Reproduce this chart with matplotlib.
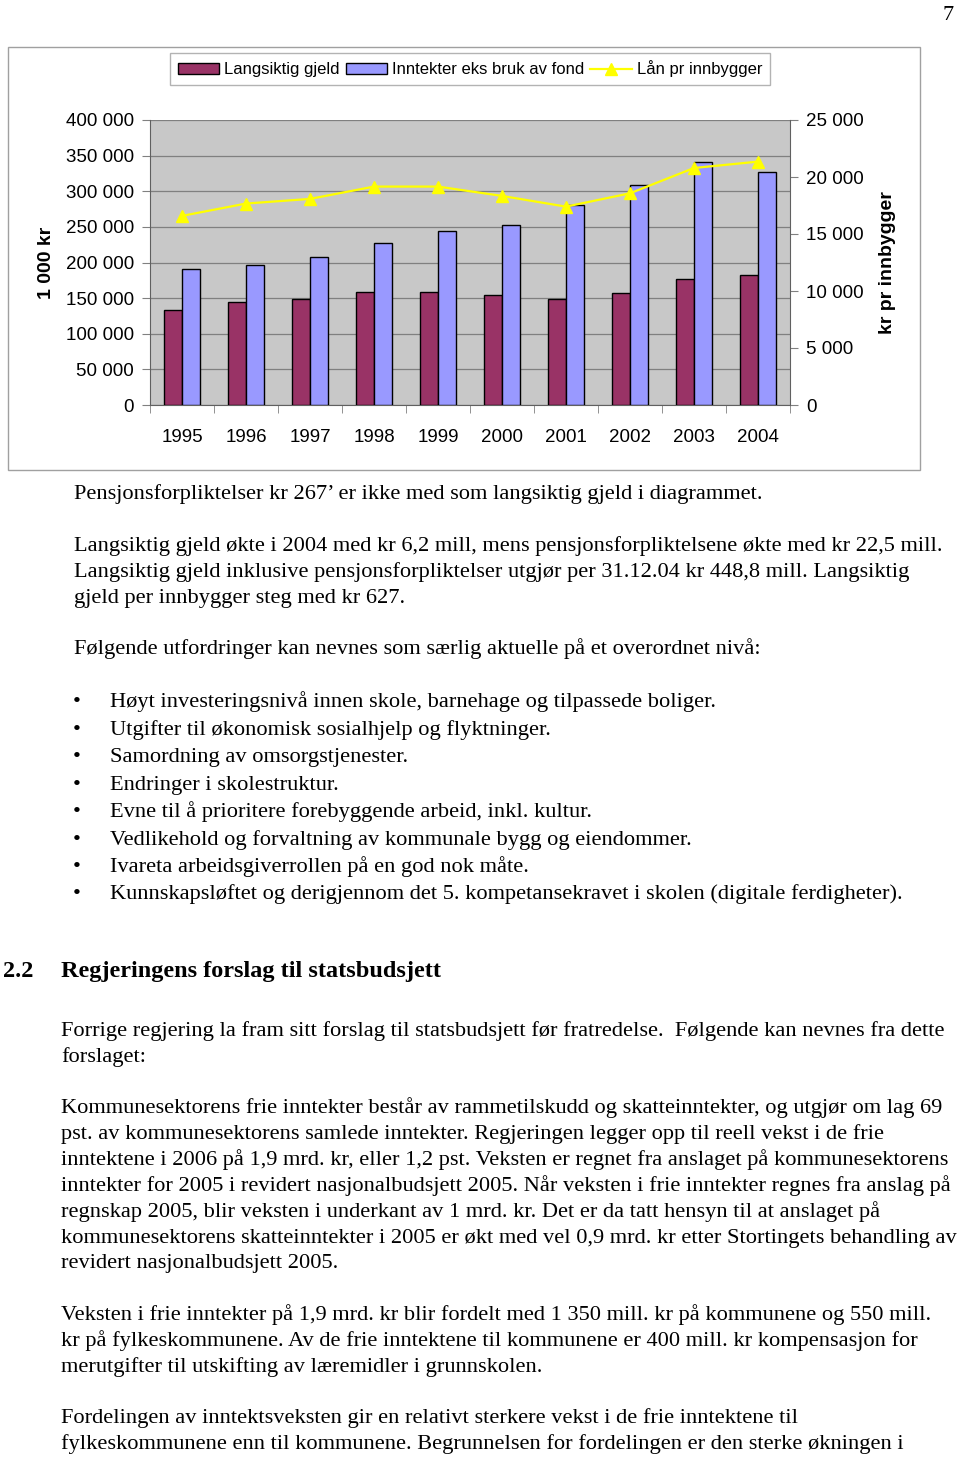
import matplotlib
matplotlib.use("Agg")
import matplotlib.pyplot as plt
from matplotlib.patches import Rectangle, Patch
from matplotlib.lines import Line2D
from matplotlib.ticker import FuncFormatter, FixedLocator

# data
years = ["1995", "1996", "1997", "1998", "1999", "2000", "2001", "2002", "2003", "2004"]
gjeld = [132700, 143900, 148100, 158900, 158900, 154700, 148100, 157000, 176200, 182700]
inntekter = [191100, 195800, 208400, 227600, 244900, 253300, 280800, 309300, 341600, 326600]
laan = [16590, 17670, 18080, 19160, 19160, 18340, 17400, 18570, 20790, 21350]

W, H = 960, 1457
sans = "Liberation Sans"
serif = "Liberation Serif"


def fx(x):
    return x / W


def fy(y):
    return 1 - y / H


fig = plt.figure(figsize=(W / 100, H / 100), dpi=100)

# chart frame
fig.patches.append(Rectangle((fx(8), fy(470)), fx(920) - fx(8), fy(47) - fy(470),
                             transform=fig.transFigure, facecolor="white",
                             edgecolor="#a0a0a0", lw=1.0, zorder=-5))

ax = fig.add_axes([fx(150), fy(405), fx(790) - fx(150), fy(120) - fy(405)])
ax.set_facecolor("#c8c8c8")
x = list(range(len(years)))
bw = 0.28
ax.bar([i - bw / 2 for i in x], gjeld, bw, color="#993366", edgecolor="black", lw=1.0, zorder=3)
ax.bar([i + bw / 2 for i in x], inntekter, bw, color="#9999ff", edgecolor="black", lw=1.0, zorder=3)
ax.set_xlim(-0.5, len(years) - 0.5)
ax.set_ylim(0, 400000)
ax.set_yticks(range(0, 400001, 50000))
ax.yaxis.set_major_formatter(FuncFormatter(lambda v, p: f"{int(v):,}".replace(",", " ")))
ax.grid(axis="y", color="#808080", lw=0.9, zorder=1)
ax.set_xticks(x)
ax.set_xticklabels(years, fontfamily=sans, fontsize=13.5)
ax.xaxis.set_minor_locator(FixedLocator([i - 0.5 for i in range(len(years) + 1)]))
ax.tick_params(axis="x", which="major", length=0, pad=17)
ax.tick_params(axis="x", which="minor", length=6, color="#808080")
ax.tick_params(axis="y", length=6, pad=5.5, color="#808080", labelsize=13.5)
for lab in ax.get_yticklabels():
    lab.set_fontfamily(sans)
for s in ["top", "right"]:
    ax.spines[s].set_visible(False)
ax.spines["left"].set_color("#606060")
ax.spines["bottom"].set_color("#606060")
ax.set_ylabel("1 000 kr", fontfamily=sans, fontsize=14, fontweight="bold", labelpad=8)

ax2 = ax.twinx()
ax2.plot(x, laan, color="#ffff00", lw=1.6, marker="^", markersize=8,
         markerfacecolor="#ffff00", markeredgecolor="#ffff00", zorder=5)
ax2.set_ylim(0, 25000)
ax2.set_yticks(range(0, 25001, 5000))
ax2.yaxis.set_major_formatter(FuncFormatter(lambda v, p: f"{int(v):,}".replace(",", " ")))
ax2.tick_params(axis="y", length=6, pad=5.5, color="#808080", labelsize=13.5)
for lab in ax2.get_yticklabels():
    lab.set_fontfamily(sans)
for s in ["top", "left", "bottom"]:
    ax2.spines[s].set_visible(False)
ax2.spines["right"].set_color("#606060")
ax2.set_ylabel("kr pr innbygger", fontfamily=sans, fontsize=14, fontweight="bold", labelpad=11)

handles = [Patch(facecolor="#993366", edgecolor="black", lw=1.0),
           Patch(facecolor="#9999ff", edgecolor="black", lw=1.0),
           Line2D([], [], color="#ffff00", lw=1.6, marker="^", markersize=8)]
leg = fig.legend(handles, ["Langsiktig gjeld", "Inntekter eks bruk av fond", "Lån pr innbygger"],
                 loc="center", bbox_to_anchor=(fx(470), fy(69)), ncol=3, frameon=True,
                 fancybox=False, edgecolor="#a0a0a0", prop={"family": sans, "size": 12},
                 handlelength=2.5, handleheight=0.7, handletextpad=0.3, columnspacing=0.35,
                 borderpad=0.45, numpoints=1)
leg.get_frame().set_linewidth(1.0)

# page text
fs = 16.1
fig.text(fx(954), fy(20), "7", fontfamily=serif, fontsize=16, ha="right", va="baseline")

lines = [
    (74, 499, "Pensjonsforpliktelser kr 267’ er ikke med som langsiktig gjeld i diagrammet."),
    (74, 551, "Langsiktig gjeld økte i 2004 med kr 6,2 mill, mens pensjonsforpliktelsene økte med kr 22,5 mill."),
    (74, 577, "Langsiktig gjeld inklusive pensjonsforpliktelser utgjør per 31.12.04 kr 448,8 mill. Langsiktig"),
    (74, 603, "gjeld per innbygger steg med kr 627."),
    (74, 654, "Følgende utfordringer kan nevnes som særlig aktuelle på et overordnet nivå:"),
    (61, 1036, "Forrige regjering la fram sitt forslag til statsbudsjett før fratredelse.  Følgende kan nevnes fra dette"),
    (61, 1062, "forslaget:"),
    (61, 1113, "Kommunesektorens frie inntekter består av rammetilskudd og skatteinntekter, og utgjør om lag 69"),
    (61, 1139, "pst. av kommunesektorens samlede inntekter. Regjeringen legger opp til reell vekst i de frie"),
    (61, 1165, "inntektene i 2006 på 1,9 mrd. kr, eller 1,2 pst. Veksten er regnet fra anslaget på kommunesektorens"),
    (61, 1191, "inntekter for 2005 i revidert nasjonalbudsjett 2005. Når veksten i frie inntekter regnes fra anslag på"),
    (61, 1217, "regnskap 2005, blir veksten i underkant av 1 mrd. kr. Det er da tatt hensyn til at anslaget på"),
    (61, 1243, "kommunesektorens skatteinntekter i 2005 er økt med vel 0,9 mrd. kr etter Stortingets behandling av"),
    (61, 1268, "revidert nasjonalbudsjett 2005."),
    (61, 1320, "Veksten i frie inntekter på 1,9 mrd. kr blir fordelt med 1 350 mill. kr på kommunene og 550 mill."),
    (61, 1346, "kr på fylkeskommunene. Av de frie inntektene til kommunene er 400 mill. kr kompensasjon for"),
    (61, 1372, "merutgifter til utskifting av læremidler i grunnskolen."),
    (61, 1423, "Fordelingen av inntektsveksten gir en relativt sterkere vekst i de frie inntektene til"),
    (61, 1449, "fylkeskommunene enn til kommunene. Begrunnelsen for fordelingen er den sterke økningen i"),
]
for lx, ly, t in lines:
    fig.text(fx(lx), fy(ly), t, fontfamily=serif, fontsize=fs, ha="left", va="baseline")

bullets = [
    "Høyt investeringsnivå innen skole, barnehage og tilpassede boliger.",
    "Utgifter til økonomisk sosialhjelp og flyktninger.",
    "Samordning av omsorgstjenester.",
    "Endringer i skolestruktur.",
    "Evne til å prioritere forebyggende arbeid, inkl. kultur.",
    "Vedlikehold og forvaltning av kommunale bygg og eiendommer.",
    "Ivareta arbeidsgiverrollen på en god nok måte.",
    "Kunnskapsløftet og derigjennom det 5. kompetansekravet i skolen (digitale ferdigheter).",
]
bullet_y = [707, 735, 762, 790, 817, 845, 872, 899]
for by, t in zip(bullet_y, bullets):
    fig.text(fx(73), fy(by), "•", fontfamily=serif, fontsize=fs, ha="left", va="baseline")
    fig.text(fx(110), fy(by), t, fontfamily=serif, fontsize=fs, ha="left", va="baseline")

fig.text(fx(3), fy(977), "2.2", fontfamily=serif, fontsize=17.5, fontweight="bold", ha="left", va="baseline")
fig.text(fx(61), fy(977), "Regjeringens forslag til statsbudsjett", fontfamily=serif, fontsize=17.5,
         fontweight="bold", ha="left", va="baseline")

fig.savefig("out.png", dpi=100)
